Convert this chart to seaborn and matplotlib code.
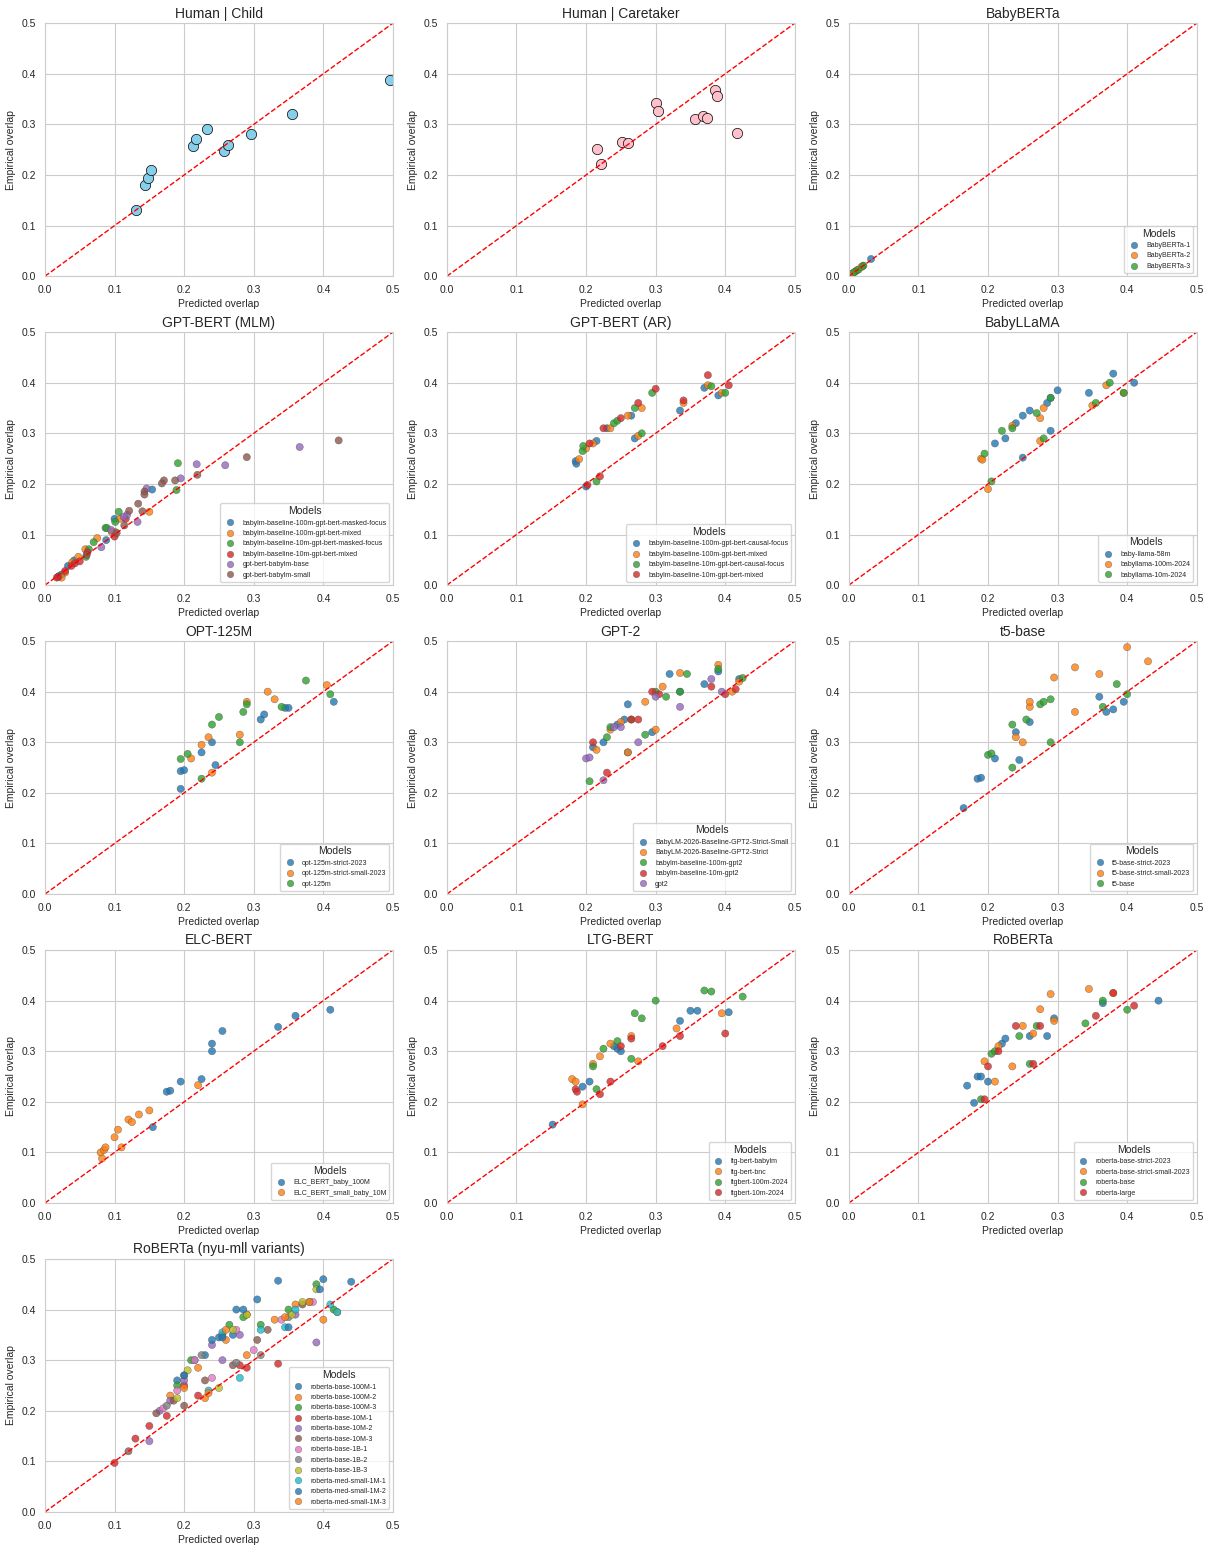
import numpy as np
import pandas as pd
import seaborn as sns
import matplotlib.pyplot as plt

# ---- human reference data ----
child_pred = [0.131, 0.144, 0.148, 0.152, 0.213, 0.217, 0.233, 0.257, 0.263, 0.296, 0.355, 0.496]
child_emp = [0.130, 0.180, 0.194, 0.210, 0.257, 0.271, 0.290, 0.247, 0.259, 0.281, 0.320, 0.387]

care_pred = [0.216, 0.221, 0.251, 0.260, 0.300, 0.303, 0.356, 0.368, 0.374, 0.385, 0.388, 0.417]
care_emp = [0.251, 0.221, 0.265, 0.263, 0.342, 0.326, 0.310, 0.316, 0.312, 0.368, 0.356, 0.283]

# ---- model data: one list of (pred, emp) lists per model ----
babyberta_models = ["BabyBERTa-1", "BabyBERTa-2", "BabyBERTa-3"]
babyberta_pred = [[0.005, 0.010, 0.020, 0.032], [0.006, 0.012, 0.018], [0.008, 0.014, 0.021]]
babyberta_emp = [[0.005, 0.010, 0.020, 0.034], [0.006, 0.012, 0.018], [0.008, 0.013, 0.021]]

gbmlm_models = ["babylm-baseline-100m-gpt-bert-masked-focus", "babylm-baseline-100m-gpt-bert-mixed",
                "babylm-baseline-10m-gpt-bert-masked-focus", "babylm-baseline-10m-gpt-bert-mixed",
                "gpt-bert-babylm-base", "gpt-bert-babylm-small"]
gbmlm_pred = [
    [0.154, 0.100, 0.088, 0.042, 0.033, 0.024, 0.020],
    [0.150, 0.108, 0.101, 0.096, 0.075, 0.058, 0.048, 0.039, 0.029, 0.024],
    [0.191, 0.189, 0.106, 0.101, 0.087, 0.089, 0.070, 0.063, 0.059],
    [0.116, 0.100, 0.061, 0.050, 0.043, 0.038, 0.029, 0.019, 0.017],
    [0.366, 0.259, 0.218, 0.195, 0.146, 0.133, 0.118, 0.113, 0.095, 0.081],
    [0.422, 0.290, 0.219, 0.187, 0.171, 0.168, 0.143, 0.143, 0.134, 0.140, 0.121, 0.114, 0.103, 0.060],
]
gbmlm_emp = [
    [0.189, 0.131, 0.089, 0.049, 0.038, 0.021, 0.018],
    [0.145, 0.131, 0.105, 0.105, 0.093, 0.071, 0.056, 0.045, 0.025, 0.015],
    [0.241, 0.188, 0.145, 0.125, 0.113, 0.113, 0.085, 0.071, 0.056],
    [0.131, 0.096, 0.065, 0.047, 0.043, 0.038, 0.028, 0.016, 0.015],
    [0.273, 0.237, 0.239, 0.211, 0.191, 0.125, 0.139, 0.135, 0.109, 0.075],
    [0.286, 0.253, 0.218, 0.207, 0.207, 0.201, 0.185, 0.179, 0.161, 0.146, 0.147, 0.118, 0.103, 0.060],
]

gbar_models = ["babylm-baseline-100m-gpt-bert-causal-focus", "babylm-baseline-100m-gpt-bert-mixed",
               "babylm-baseline-10m-gpt-bert-causal-focus", "babylm-baseline-10m-gpt-bert-mixed"]
gbar_pred = [
    [0.185, 0.186, 0.215, 0.230, 0.265, 0.270, 0.335, 0.370, 0.390, 0.200],
    [0.190, 0.200, 0.210, 0.235, 0.260, 0.280, 0.275, 0.340, 0.375, 0.395],
    [0.195, 0.196, 0.240, 0.245, 0.270, 0.295, 0.280, 0.380, 0.400, 0.215],
    [0.205, 0.225, 0.250, 0.275, 0.300, 0.340, 0.375, 0.405, 0.202, 0.220],
]
gbar_emp = [
    [0.245, 0.240, 0.285, 0.310, 0.335, 0.290, 0.345, 0.390, 0.375, 0.195],
    [0.249, 0.270, 0.280, 0.310, 0.335, 0.350, 0.295, 0.360, 0.395, 0.380],
    [0.265, 0.275, 0.320, 0.325, 0.350, 0.380, 0.300, 0.393, 0.380, 0.205],
    [0.280, 0.310, 0.330, 0.360, 0.388, 0.365, 0.415, 0.395, 0.198, 0.215],
]

bllama_models = ["baby-llama-58m", "babyllama-100m-2024", "babyllama-10m-2024"]
bllama_pred = [
    [0.380, 0.410, 0.345, 0.300, 0.290, 0.285, 0.260, 0.250, 0.240, 0.210, 0.225, 0.290, 0.250],
    [0.190, 0.200, 0.235, 0.275, 0.275, 0.280, 0.350, 0.370, 0.395, 0.192],
    [0.195, 0.205, 0.220, 0.235, 0.270, 0.280, 0.355, 0.375, 0.395, 0.290],
]
bllama_emp = [
    [0.418, 0.400, 0.380, 0.385, 0.370, 0.360, 0.345, 0.335, 0.320, 0.280, 0.290, 0.305, 0.252],
    [0.250, 0.190, 0.315, 0.330, 0.285, 0.350, 0.355, 0.395, 0.380, 0.248],
    [0.260, 0.205, 0.305, 0.310, 0.340, 0.290, 0.360, 0.400, 0.380, 0.370],
]

opt_models = ["opt-125m-strict-2023", "opt-125m-strict-small-2023", "opt-125m"]
opt_pred = [
    [0.195, 0.195, 0.200, 0.225, 0.240, 0.245, 0.310, 0.315, 0.415, 0.350, 0.345],
    [0.210, 0.225, 0.235, 0.240, 0.280, 0.290, 0.320, 0.330, 0.405],
    [0.195, 0.205, 0.225, 0.240, 0.250, 0.280, 0.285, 0.290, 0.340, 0.375, 0.410],
]
opt_emp = [
    [0.208, 0.243, 0.245, 0.280, 0.300, 0.255, 0.345, 0.355, 0.380, 0.368, 0.368],
    [0.268, 0.295, 0.310, 0.240, 0.315, 0.380, 0.400, 0.385, 0.413],
    [0.267, 0.277, 0.228, 0.335, 0.350, 0.300, 0.360, 0.375, 0.370, 0.422, 0.395],
]

gpt2_models = ["BabyLM-2026-Baseline-GPT2-Strict-Small", "BabyLM-2026-Baseline-GPT2-Strict",
               "babylm-baseline-100m-gpt2", "babylm-baseline-10m-gpt2", "gpt2"]
gpt2_pred = [
    [0.210, 0.225, 0.245, 0.255, 0.260, 0.260, 0.295, 0.320, 0.335, 0.370, 0.390, 0.420],
    [0.215, 0.235, 0.250, 0.260, 0.285, 0.300, 0.310, 0.335, 0.390, 0.410, 0.420],
    [0.205, 0.230, 0.235, 0.265, 0.285, 0.300, 0.315, 0.335, 0.345, 0.390, 0.425],
    [0.210, 0.230, 0.265, 0.275, 0.295, 0.305, 0.380, 0.400, 0.415],
    [0.200, 0.205, 0.225, 0.240, 0.250, 0.275, 0.300, 0.335, 0.380, 0.395],
]
gpt2_emp = [
    [0.290, 0.300, 0.335, 0.345, 0.280, 0.375, 0.320, 0.435, 0.400, 0.415, 0.440, 0.425],
    [0.285, 0.325, 0.340, 0.280, 0.380, 0.325, 0.410, 0.437, 0.453, 0.400, 0.420],
    [0.223, 0.310, 0.330, 0.345, 0.315, 0.400, 0.390, 0.400, 0.435, 0.445, 0.427],
    [0.300, 0.240, 0.345, 0.345, 0.400, 0.395, 0.410, 0.395, 0.405],
    [0.268, 0.270, 0.225, 0.330, 0.330, 0.300, 0.390, 0.370, 0.425, 0.400],
]

t5_models = ["t5-base-strict-2023", "t5-base-strict-small-2023", "t5-base"]
t5_pred = [
    [0.165, 0.185, 0.190, 0.210, 0.240, 0.245, 0.260, 0.360, 0.380, 0.395, 0.370],
    [0.240, 0.250, 0.260, 0.260, 0.295, 0.325, 0.325, 0.360, 0.400, 0.430],
    [0.200, 0.205, 0.235, 0.235, 0.255, 0.275, 0.280, 0.290, 0.290, 0.385, 0.400, 0.365],
]
t5_emp = [
    [0.170, 0.228, 0.230, 0.268, 0.320, 0.265, 0.340, 0.390, 0.365, 0.380, 0.360],
    [0.310, 0.300, 0.370, 0.380, 0.428, 0.448, 0.360, 0.435, 0.488, 0.460],
    [0.275, 0.278, 0.250, 0.335, 0.345, 0.375, 0.380, 0.385, 0.300, 0.415, 0.395, 0.370],
]

elc_models = ["ELC_BERT_baby_100M", "ELC_BERT_small_baby_10M"]
elc_pred = [
    [0.155, 0.175, 0.180, 0.195, 0.225, 0.240, 0.240, 0.255, 0.335, 0.360, 0.410],
    [0.080, 0.082, 0.085, 0.087, 0.100, 0.105, 0.110, 0.120, 0.125, 0.135, 0.150, 0.220],
]
elc_emp = [
    [0.150, 0.220, 0.222, 0.240, 0.245, 0.300, 0.315, 0.340, 0.348, 0.370, 0.382],
    [0.100, 0.088, 0.105, 0.110, 0.130, 0.145, 0.110, 0.165, 0.160, 0.175, 0.183, 0.233],
]

ltg_models = ["ltg-bert-babylm", "ltg-bert-bnc", "ltgbert-100m-2024", "ltgbert-10m-2024"]
ltg_pred = [
    [0.152, 0.195, 0.205, 0.245, 0.240, 0.250, 0.335, 0.350, 0.360, 0.405],
    [0.180, 0.185, 0.195, 0.210, 0.220, 0.235, 0.265, 0.275, 0.330, 0.395],
    [0.210, 0.215, 0.225, 0.265, 0.270, 0.280, 0.300, 0.370, 0.380, 0.425, 0.245],
    [0.185, 0.187, 0.220, 0.235, 0.250, 0.265, 0.310, 0.335, 0.400],
]
ltg_emp = [
    [0.155, 0.230, 0.240, 0.305, 0.310, 0.300, 0.360, 0.380, 0.380, 0.377],
    [0.245, 0.240, 0.195, 0.275, 0.290, 0.315, 0.330, 0.280, 0.345, 0.375],
    [0.270, 0.225, 0.305, 0.285, 0.375, 0.365, 0.400, 0.420, 0.418, 0.408, 0.320],
    [0.225, 0.220, 0.215, 0.240, 0.310, 0.325, 0.310, 0.330, 0.335],
]

rob_models = ["roberta-base-strict-2023", "roberta-base-strict-small-2023", "roberta-base", "roberta-large"]
rob_pred = [
    [0.170, 0.180, 0.185, 0.190, 0.200, 0.220, 0.225, 0.260, 0.285, 0.365, 0.445, 0.295],
    [0.195, 0.210, 0.215, 0.235, 0.250, 0.265, 0.275, 0.290, 0.345, 0.380, 0.295],
    [0.190, 0.205, 0.210, 0.245, 0.260, 0.270, 0.340, 0.365, 0.400],
    [0.195, 0.200, 0.215, 0.240, 0.265, 0.275, 0.355, 0.380, 0.410],
]
rob_emp = [
    [0.232, 0.198, 0.250, 0.250, 0.240, 0.315, 0.325, 0.330, 0.330, 0.395, 0.400, 0.365],
    [0.280, 0.240, 0.310, 0.270, 0.350, 0.335, 0.383, 0.413, 0.423, 0.415, 0.360],
    [0.205, 0.295, 0.300, 0.330, 0.275, 0.350, 0.355, 0.400, 0.382],
    [0.205, 0.270, 0.300, 0.350, 0.275, 0.350, 0.370, 0.415, 0.390],
]

nyu_models = ["roberta-base-100M-1", "roberta-base-100M-2", "roberta-base-100M-3",
              "roberta-base-10M-1", "roberta-base-10M-2", "roberta-base-10M-3",
              "roberta-base-1B-1", "roberta-base-1B-2", "roberta-base-1B-3",
              "roberta-med-small-1M-1", "roberta-med-small-1M-2", "roberta-med-small-1M-3"]
nyu_pred = [
    [0.190, 0.230, 0.250, 0.275, 0.305, 0.335, 0.400, 0.440, 0.270, 0.215],
    [0.180, 0.220, 0.260, 0.290, 0.330, 0.360, 0.400, 0.420, 0.230],
    [0.190, 0.210, 0.265, 0.285, 0.350, 0.390, 0.415, 0.310],
    [0.100, 0.130, 0.150, 0.175, 0.200, 0.220, 0.280, 0.335, 0.290],
    [0.150, 0.165, 0.180, 0.200, 0.240, 0.255, 0.280, 0.390, 0.360],
    [0.120, 0.160, 0.185, 0.200, 0.230, 0.270, 0.305, 0.320, 0.370],
    [0.170, 0.190, 0.215, 0.240, 0.275, 0.300, 0.340, 0.385],
    [0.175, 0.200, 0.225, 0.255, 0.275, 0.310, 0.350, 0.380],
    [0.190, 0.205, 0.250, 0.270, 0.290, 0.355, 0.370, 0.390],
    [0.235, 0.255, 0.280, 0.310, 0.345, 0.360, 0.410, 0.420],
    [0.200, 0.240, 0.255, 0.285, 0.350, 0.395],
    [0.200, 0.235, 0.260, 0.290, 0.345, 0.380],
]
nyu_emp = [
    [0.260, 0.310, 0.345, 0.400, 0.420, 0.457, 0.460, 0.455, 0.350, 0.300],
    [0.230, 0.285, 0.340, 0.390, 0.380, 0.410, 0.380, 0.395, 0.225],
    [0.250, 0.300, 0.370, 0.385, 0.400, 0.450, 0.400, 0.370],
    [0.097, 0.145, 0.170, 0.190, 0.250, 0.230, 0.290, 0.293, 0.285],
    [0.140, 0.200, 0.220, 0.260, 0.330, 0.300, 0.350, 0.335, 0.390],
    [0.120, 0.195, 0.220, 0.210, 0.260, 0.290, 0.340, 0.360, 0.410],
    [0.205, 0.240, 0.300, 0.265, 0.360, 0.320, 0.380, 0.415],
    [0.210, 0.270, 0.310, 0.350, 0.295, 0.310, 0.385, 0.415],
    [0.225, 0.280, 0.245, 0.360, 0.390, 0.390, 0.415, 0.440],
    [0.240, 0.355, 0.265, 0.360, 0.365, 0.400, 0.410, 0.395],
    [0.270, 0.340, 0.345, 0.400, 0.365, 0.440],
    [0.245, 0.235, 0.360, 0.310, 0.385, 0.415],
]

tab10 = sns.color_palette("tab10")


def to_frame(models, pred, emp):
    rows = []
    for m, xs, ys in zip(models, pred, emp):
        for x, y in zip(xs, ys):
            rows.append({"Model": m, "Predicted overlap": x, "Empirical overlap": y})
    return pd.DataFrame(rows)


def style_axis(ax, title):
    ax.plot([0, 0.5], [0, 0.5], color="red", linestyle="--", linewidth=1)
    ax.set_xlim(0, 0.5)
    ax.set_ylim(0, 0.5)
    ax.set_xticks(np.arange(0, 0.51, 0.1))
    ax.set_yticks(np.arange(0, 0.51, 0.1))
    ax.set_title(title, fontsize=10, pad=4)
    ax.set_xlabel("Predicted overlap", fontsize=7.5, labelpad=3)
    ax.set_ylabel("Empirical overlap", fontsize=7.5, labelpad=4)
    ax.tick_params(labelsize=7.5, pad=3)


sns.set_style("whitegrid")
plt.rcParams["font.family"] = ["Arial", "Liberation Sans", "DejaVu Sans"]

fig, axes = plt.subplots(5, 3, figsize=(12.15, 15.46))
fig.subplots_adjust(left=0.037, right=0.985, bottom=0.022, top=0.985,
                    wspace=0.155, hspace=0.221)
axes = axes.flatten()

# human panels
sns.scatterplot(x=child_pred, y=child_emp, ax=axes[0], s=55, color="skyblue",
                edgecolor="black", linewidth=0.5)
style_axis(axes[0], "Human | Child")
sns.scatterplot(x=care_pred, y=care_emp, ax=axes[1], s=55, color="pink",
                edgecolor="black", linewidth=0.5)
style_axis(axes[1], "Human | Caretaker")

panels = [
    ("BabyBERTa", babyberta_models, babyberta_pred, babyberta_emp),
    ("GPT-BERT (MLM)", gbmlm_models, gbmlm_pred, gbmlm_emp),
    ("GPT-BERT (AR)", gbar_models, gbar_pred, gbar_emp),
    ("BabyLLaMA", bllama_models, bllama_pred, bllama_emp),
    ("OPT-125M", opt_models, opt_pred, opt_emp),
    ("GPT-2", gpt2_models, gpt2_pred, gpt2_emp),
    ("t5-base", t5_models, t5_pred, t5_emp),
    ("ELC-BERT", elc_models, elc_pred, elc_emp),
    ("LTG-BERT", ltg_models, ltg_pred, ltg_emp),
    ("RoBERTa", rob_models, rob_pred, rob_emp),
    ("RoBERTa (nyu-mll variants)", nyu_models, nyu_pred, nyu_emp),
]

for i, (title, models, pred, emp) in enumerate(panels):
    ax = axes[i + 2]
    df = to_frame(models, pred, emp)
    pal = [tab10[k % 10] for k in range(len(models))]
    sns.scatterplot(data=df, x="Predicted overlap", y="Empirical overlap", hue="Model",
                    hue_order=models, palette=pal, ax=ax, s=27, alpha=0.8,
                    edgecolor="0.3", linewidth=0.3)
    style_axis(ax, title)
    ax.legend(title="Models", loc="lower right", fontsize=5, title_fontsize=7.5,
              markerscale=0.9, frameon=True)

for ax in axes[13:]:
    ax.remove()

plt.savefig("out.png", dpi=100)
